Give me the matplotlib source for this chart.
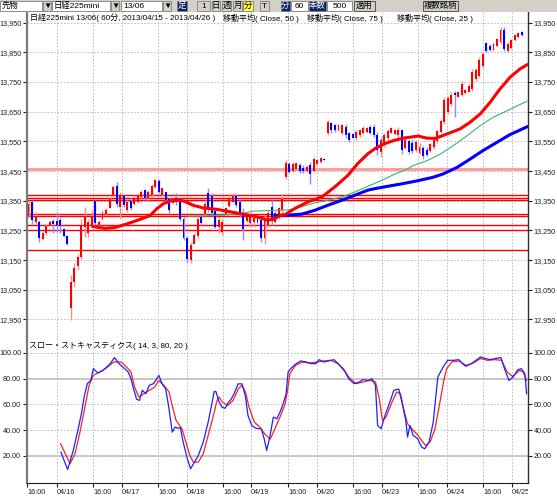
import matplotlib.pyplot as plt
from matplotlib.patches import Rectangle
from matplotlib.transforms import Bbox, TransformedBbox

plt.rcParams['font.family'] = ['Liberation Sans', 'Noto Sans CJK JP', 'DejaVu Sans']

# 日経225mini 13/06, 60分足 (2013/04/15 - 2013/04/26)
opens = [13300, 13345, 13280, 13280, 13222, 13240, 13270, 13282, 13282, 13285,
         13255, 13230, 12990, 13075, 13130, 13160, 13260, 13240, 13265, 13350,
         13270, 13290, 13305, 13325, 13370, 13400, 13330, 13365, 13320, 13350,
         13340, 13345, 13362, 13385, 13358, 13370, 13395, 13415, 13370, 13378,
         13355, 13343, 13360, 13345, 13290, 13225, 13150, 13205, 13230, 13295,
         13305, 13375, 13365, 13315, 13260, 13245, 13305, 13332, 13345, 13365,
         13345, 13310, 13282, 13275, 13280, 13292, 13285, 13225, 13270, 13330,
         13280, 13295, 13318, 13430, 13475, 13450, 13458, 13472, 13462, 13450,
         13470, 13450, 13475, 13482, 13492, 13578, 13612, 13605, 13590, 13580,
         13600, 13578, 13575, 13562, 13570, 13580, 13582, 13598, 13600, 13570,
         13515, 13540, 13560, 13580, 13575, 13570, 13588, 13528, 13552, 13545,
         13520, 13512, 13528, 13520, 13518, 13530, 13550, 13582, 13615, 13650,
         13675, 13712, 13700, 13708, 13712, 13718, 13725, 13760, 13770, 13805,
         13880, 13872, 13858, 13870, 13885, 13925, 13855, 13865, 13892, 13902,
         13918]
highs = [13350, 13350, 13313, 13285, 13245, 13273, 13285, 13290, 13313, 13296,
         13257, 13234, 13099, 13139, 13172, 13290, 13330, 13290, 13318, 13352,
         13285, 13318, 13324, 13363, 13403, 13414, 13380, 13369, 13352, 13358,
         13363, 13374, 13386, 13391, 13386, 13408, 13425, 13422, 13397, 13380,
         13363, 13358, 13375, 13355, 13296, 13231, 13212, 13242, 13296, 13302,
         13352, 13392, 13375, 13319, 13294, 13290, 13330, 13369, 13375, 13369,
         13352, 13324, 13307, 13302, 13296, 13296, 13296, 13302, 13318, 13352,
         13318, 13330, 13372, 13487, 13481, 13481, 13481, 13476, 13470, 13470,
         13481, 13498, 13492, 13498, 13494, 13622, 13616, 13610, 13610, 13610,
         13608, 13582, 13580, 13588, 13593, 13601, 13599, 13605, 13608, 13582,
         13565, 13577, 13593, 13599, 13593, 13599, 13592, 13564, 13558, 13555,
         13556, 13545, 13533, 13532, 13545, 13560, 13590, 13625, 13698, 13704,
         13715, 13721, 13721, 13754, 13726, 13743, 13794, 13799, 13833, 13850,
         13884, 13878, 13884, 13900, 13934, 13934, 13884, 13895, 13912, 13917,
         13923]
lows = [13296, 13273, 13273, 13212, 13217, 13234, 13268, 13240, 13245, 13240,
        13228, 13200, 12948, 13060, 13116, 13155, 13228, 13228, 13257, 13268,
        13262, 13285, 13301, 13324, 13369, 13330, 13290, 13330, 13313, 13318,
        13335, 13341, 13358, 13352, 13352, 13363, 13392, 13375, 13366, 13350,
        13310, 13341, 13335, 13283, 13217, 13144, 13139, 13204, 13223, 13268,
        13302, 13313, 13298, 13257, 13240, 13234, 13302, 13330, 13341, 13330,
        13296, 13217, 13279, 13262, 13262, 13274, 13212, 13205, 13262, 13268,
        13274, 13290, 13307, 13425, 13442, 13447, 13453, 13442, 13442, 13447,
        13408, 13447, 13470, 13478, 13486, 13571, 13577, 13582, 13586, 13571,
        13560, 13549, 13560, 13556, 13565, 13574, 13577, 13574, 13565, 13504,
        13498, 13532, 13543, 13577, 13571, 13560, 13507, 13524, 13507, 13510,
        13515, 13508, 13492, 13500, 13515, 13525, 13545, 13578, 13608, 13642,
        13670, 13631, 13698, 13704, 13709, 13715, 13721, 13754, 13766, 13799,
        13850, 13855, 13855, 13867, 13878, 13855, 13850, 13861, 13889, 13900,
        13906]
closes = [13340, 13285, 13300, 13225, 13240, 13265, 13280, 13272, 13270, 13265,
          13232, 13203, 13075, 13125, 13160, 13270, 13300, 13280, 13300, 13275,
          13280, 13310, 13320, 13355, 13395, 13340, 13370, 13335, 13345, 13325,
          13358, 13368, 13380, 13358, 13380, 13400, 13420, 13380, 13392, 13352,
          13320, 13355, 13345, 13290, 13225, 13155, 13200, 13235, 13290, 13275,
          13340, 13330, 13310, 13262, 13285, 13280, 13325, 13360, 13365, 13335,
          13305, 13255, 13300, 13298, 13292, 13278, 13225, 13290, 13310, 13290,
          13310, 13325, 13355, 13478, 13448, 13475, 13476, 13450, 13450, 13465,
          13440, 13490, 13488, 13495, 13488, 13615, 13588, 13590, 13605, 13605,
          13570, 13555, 13563, 13582, 13588, 13596, 13595, 13580, 13570, 13520,
          13555, 13570, 13585, 13595, 13588, 13590, 13520, 13555, 13515, 13518,
          13548, 13530, 13500, 13505, 13540, 13555, 13585, 13620, 13690, 13695,
          13705, 13705, 13718, 13745, 13724, 13738, 13785, 13792, 13825, 13845,
          13855, 13858, 13878, 13895, 13925, 13862, 13878, 13890, 13908, 13914,
          13910]

# 水平ライン
levels = [13370, 13360, 13352, 13305, 13300, 13267, 13253, 13183]
pink_level = 13457

# 移動平均 (bar position, value)
ma25_x = [18.3, 21.7, 24.6, 27.4, 31.1, 34.5, 36.5, 38.4, 40.2, 42.2, 44.1, 46.7, 49.5,
          53.5, 57.2, 60.9, 64.9, 67.7, 69.4, 71.4, 72.8, 75.6, 79.3, 83.3, 87.0, 90.7,
          93.5, 96.4, 98.4, 101.2, 104.0, 106.9, 110.6, 113.1, 115.4, 118.8, 122.5,
          125.3, 128.2, 131.0, 133.8, 136.7, 139.5, 141.5]
ma25_y = [13263, 13257, 13260, 13270, 13285, 13300, 13324, 13341, 13349, 13352, 13349,
          13335, 13326, 13321, 13313, 13305, 13296, 13285, 13287, 13300, 13303, 13324,
          13346, 13363, 13397, 13436, 13476, 13509, 13526, 13543, 13554, 13562, 13568,
          13561, 13560, 13575, 13592, 13614, 13642, 13681, 13726, 13766, 13794, 13808]
ma50_x = [45.3, 50.7, 55.2, 60.9, 63.7, 70.5, 73.7, 77.6, 81.3, 85.0, 89.0, 92.7, 96.4,
          100.3, 104.0, 106.9, 109.1, 113.1, 116.9, 120.5, 124.5, 128.2, 131.9, 135.8,
          139.5, 141.5]
ma50_y = [13298, 13299, 13302, 13307, 13315, 13318, 13319, 13330, 13343, 13352, 13363,
          13380, 13399, 13419, 13440, 13453, 13468, 13485, 13507, 13535, 13569, 13603,
          13631, 13653, 13674, 13685]
ma75_x = [70.0, 74.2, 77.6, 81.3, 85.0, 89.0, 92.7, 96.4, 98.4, 102.1, 105.5, 110.3,
          114.8, 117.6, 121.6, 125.3, 129.0, 133.0, 136.7, 141.5]
ma75_y = [13300, 13302, 13305, 13318, 13335, 13352, 13369, 13386, 13391, 13399, 13406,
          13417, 13429, 13440, 13462, 13490, 13519, 13547, 13573, 13599]

# スロー・ストキャスティクス
k_x = [9.2, 11.1, 12.7, 14.1, 15.1, 15.8, 16.7, 17.7, 18.4, 19.7, 21.2, 22.2, 23.2, 24.4,
       25.7, 27.3, 28.3, 29.1, 29.8, 30.7, 31.5, 32.3, 33.3, 34.3, 35.5, 36.4, 37.0, 37.9,
       38.9, 39.7, 40.8, 41.6, 42.4, 43.1, 43.9, 45.1, 46.0, 47.1, 48.2, 49.6, 51.0, 52.0,
       52.7, 53.2, 54.1, 54.9, 55.8, 56.6, 57.5, 58.3, 59.5, 60.6, 61.6, 62.3, 63.4, 64.6,
       66.1, 66.9, 67.6, 68.5, 69.5, 70.5, 71.4, 72.3, 73.1, 73.7, 74.7, 76.0, 77.3, 78.8,
       80.3, 81.6, 82.5, 83.8, 85.4, 86.7, 87.9, 88.9, 89.9, 90.9, 92.4, 93.9, 94.9, 96.5,
       97.5, 98.5, 99.1, 100.1, 101.2, 102.6, 103.7, 105.1, 106.0, 107.1, 107.6, 108.3,
       109.2, 110.5, 111.6, 112.5, 113.7, 114.9, 116.2, 117.7, 119.0, 120.7, 122.2, 123.2,
       124.2, 125.7, 127.3, 128.3, 129.8, 131.1, 132.5, 134.1, 135.3, 136.4, 137.6, 138.9,
       139.9, 140.9, 141.4]
k_y = [23, 9.5, 24.3, 41, 54, 66, 76.2, 78.7, 87.8, 84.5, 86.5, 89.1, 91.7, 96.4, 91.7,
       87.8, 85.2, 80, 72.3, 64, 63.2, 71, 68.4, 74.9, 76.2, 80, 82.6, 76.2, 72.3, 60,
       38.5, 42.5, 41.5, 42, 30.8, 17.8, 10, 15.2, 20.4, 30.8, 46.3, 60, 70, 70, 62, 58,
       57, 61, 64, 68, 76, 76, 66, 51.5, 43.5, 41.5, 41, 33.4, 24.3, 34.7, 50.2, 48.9,
       54.1, 60.6, 68, 85.2, 88.6, 91.7, 93.8, 93, 91.7, 91.7, 94.8, 93, 94, 94.8, 91.7,
       88.6, 85.2, 80, 76.2, 77.4, 79.3, 78.7, 80, 74.9, 43.7, 41.1, 51.5, 61.9, 71, 72,
       61.9, 47.6, 34.7, 43.7, 36, 33.4, 26.9, 25.6, 30.8, 46.3, 81.3, 89, 94.3, 94.3,
       94.8, 91.7, 89.6, 91.7, 94.8, 96.9, 95.6, 94.8, 95.6, 96.4, 86.5, 78.7, 81.3, 87,
       87.8, 84, 68.4]
d_x = [9.1, 11.8, 13.2, 14.6, 16.2, 17.2, 18.4, 20.2, 22.2, 24.2, 26.3, 27.8, 29.1, 30.1,
       31.3, 32.8, 34.3, 35.9, 36.9, 38.4, 39.9, 40.9, 41.9, 42.9, 43.6, 44.4, 45.8, 46.8,
       48.2, 49.6, 51.0, 52.5, 53.5, 54.1, 55.0, 56.6, 58.1, 59.6, 60.6, 61.6, 62.6, 64.1,
       65.7, 67.1, 68.6, 70.1, 71.5, 72.8, 73.5, 74.2, 75.8, 77.8, 79.8, 81.8, 83.8, 85.8,
       87.8, 89.4, 90.9, 92.9, 94.9, 97.0, 98.5, 99.5, 100.5, 101.5, 103.0, 104.5, 105.6,
       106.6, 107.6, 108.8, 110.2, 111.6, 112.7, 114.0, 115.4, 116.8, 118.0, 118.7, 120.2,
       122.2, 124.2, 126.3, 128.3, 130.3, 132.3, 134.3, 135.9, 137.4, 139.4, 140.4, 141.4]
d_y = [29.5, 14, 21.7, 38.5, 60.6, 74.9, 82.6, 85.2, 88.6, 93, 93, 89.1, 85.2, 73.6, 65.8,
       68.4, 71, 73.6, 78.7, 74.9, 69.7, 58, 47.6, 43.7, 41, 33.4, 20.4, 15.2, 15.2, 21.7,
       36, 51.5, 63, 65.8, 61.9, 59.3, 63.2, 72.3, 74.9, 69.7, 58, 46.3, 42.4, 37, 33, 42,
       51, 60, 70, 84, 90.4, 93, 92.2, 93, 93.8, 94.3, 91.7, 87.8, 81.3, 76.2, 77.4, 78.7,
       77.4, 65.8, 47.6, 50.2, 60.6, 69.7, 68.4, 55.4, 45, 41.1, 37.2, 32.1, 28.2, 30.8,
       41.1, 61.9, 80, 87.8, 93, 93.8, 90.4, 92.2, 95.6, 94.3, 94.8, 94.3, 85.2, 81.8,
       86.5, 85.2, 78.7]

tick_pos = [-0.4, 8.1, 18.3, 26.5, 36.8, 45.0, 55.2, 63.2, 73.7, 81.9, 92.1, 100.3,
            110.6, 118.8, 129.0, 137.2]
tick_lbl = ['16:00', '04/16', '16:00', '04/17', '16:00', '04/18', '16:00', '04/19',
            '16:00', '04/20', '16:00', '04/23', '16:00', '04/24', '16:00', '04/25']

W, H = 557, 496
fig = plt.figure(figsize=(W / 100, H / 100), dpi=100)
fig.patch.set_facecolor('white')


def px(l, t, r, b):
    return [l / W, 1 - b / H, (r - l) / W, (b - t) / H]


ax = fig.add_axes(px(27, 12, 528, 337))
ax2 = fig.add_axes(px(27, 337, 528, 483), sharex=ax)

grid_kw = dict(color='#b4b4b4', lw=0.6, ls=(0, (2, 2)))

# --- price panel ---
ax.set_xlim(-0.43, 141.8)
ax.set_ylim(12891, 13986)
yt = list(range(12950, 14000, 100))
ax.set_yticks(yt)
ax.set_yticklabels([f'{v:,}' for v in yt])
ax.set_xticks(tick_pos)
ax.grid(True, **grid_kw)
ax.set_axisbelow(True)

ax.axhline(pink_level, color='#ff9c9c', lw=2.2, zorder=1)
for lv in levels:
    ax.axhline(lv, color='#ff0000', lw=1, zorder=1)

for i, (o, h, l, c) in enumerate(zip(opens, highs, lows, closes)):
    up = c >= o
    body = '#ff0000' if up else '#0000ff'
    wick = '#ff8c8c' if up else '#8c8cff'
    ax.vlines(i, l, h, color=wick, lw=1.0, zorder=3)
    ax.bar(i, max(abs(c - o), 3), bottom=min(o, c), width=0.55, color=body,
           lw=0, zorder=4)

ax.plot(ma50_x, ma50_y, color='#3cb371', lw=0.8, zorder=5)
ax.plot(ma75_x, ma75_y, color='#0000ff', lw=2.2, zorder=5)
ax.plot(ma25_x, ma25_y, color='#ff0000', lw=2.2, zorder=6)

# --- stochastics panel ---
ax2.set_ylim(-0.97, 112.4)
st = [20, 40, 60, 80, 100]
ax2.set_yticks(st)
ax2.set_yticklabels([f'{v:.2f}' for v in st])
ax2.grid(True, **grid_kw)
ax2.set_axisbelow(True)
ax2.axhline(80, color='#c4c4c4', lw=1.3, zorder=1)
ax2.axhline(20, color='#c4c4c4', lw=1.3, zorder=1)
ax2.plot(d_x, d_y, color='#ff2020', lw=0.9, zorder=3)
ax2.plot(k_x, k_y, color='#2020ff', lw=0.9, zorder=4)

ax2.set_xticks(tick_pos)
ax2.set_xticklabels(tick_lbl)

for a in (ax, ax2):
    a.spines['top'].set_visible(False)
    a.spines['left'].set_color('#7a7a7a')
    a.spines['left'].set_linewidth(1.6)
    a.spines['right'].set_color('#303030')
    a.spines['right'].set_linewidth(1.0)
    a.tick_params(axis='y', left=True, right=True, labelleft=True, labelright=True,
                  direction='out', length=3, width=0.8, labelsize=5.2, pad=1.2,
                  colors='#202020')
ax.spines['bottom'].set_visible(False)
ax.tick_params(axis='x', bottom=False, labelbottom=False)
ax2.spines['bottom'].set_color('#202020')
ax2.tick_params(axis='x', direction='out', length=3, width=0.8, labelsize=5.2, pad=1.5,
                colors='#202020')

clip = TransformedBbox(Bbox([[0, 0], [528 / W, 1]]), fig.transFigure)
for lbl in ax2.get_xticklabels():
    lbl.set_horizontalalignment('left')
    lbl.set_clip_box(clip)
    lbl.set_clip_on(True)

# --- titles ---
tfs = 5.8
fig.text(30 / W, 1 - 18 / H, '日経225mini 13/06( 60分, 2013/04/15 - 2013/04/26 )',
         fontsize=tfs, va='center')
fig.text(223 / W, 1 - 18 / H, '移動平均( Close, 50 )', fontsize=tfs, va='center')
fig.text(307 / W, 1 - 18 / H, '移動平均( Close, 75 )', fontsize=tfs, va='center')
fig.text(397 / W, 1 - 18 / H, '移動平均( Close, 25 )', fontsize=tfs, va='center')
fig.text(29 / W, 1 - 346 / H, 'スロー・ストキャスティクス( 14, 3, 80, 20 )',
         fontsize=tfs, va='center')

# --- toolbar ---
tb = fig.add_axes(px(0, 0, 557, 12))
tb.set_xlim(0, W)
tb.set_ylim(12, 0)
tb.axis('off')
tb.add_patch(Rectangle((0, 0), W, 12, color='#d4d0c8', zorder=0))


def box(x0, x1, text='', fc='white', tc='black', ec='#808080'):
    tb.add_patch(Rectangle((x0, 1), x1 - x0, 10, fc=fc, ec=ec, lw=0.6))
    if text:
        tb.text((x0 + x1) / 2, 6, text, fontsize=6, color=tc, ha='center', va='center')


def combo(x0, x1, text):
    tb.add_patch(Rectangle((x0, 1), x1 - x0, 10, fc='white', ec='#808080', lw=0.6))
    tb.text(x0 + 2, 6, text, fontsize=6, ha='left', va='center')
    box(x1 + 1, x1 + 9, '▼', fc='#d4d0c8')


combo(0, 42, '先物')
combo(52, 110, '日経225mini')
combo(121, 162, '13/06')
box(177, 187, '足', fc='#0a246a', tc='white')
box(197, 210, '1', fc='#d4d0c8')
box(212, 220, '日', fc='#d4d0c8')
box(222, 231, '週', fc='#d4d0c8')
box(233, 242, '月', fc='#d4d0c8')
box(243, 253, '分', fc='#ffff40')
box(260, 269, 'T', fc='#d4d0c8')
box(281, 290, '分', fc='#0a246a', tc='white')
box(291, 308, '60')
box(309, 326, '本数', fc='#0a246a', tc='white')
box(327, 352, '500')
box(354, 375, '適用', fc='#d4d0c8', ec='#404040')
box(423, 458, '複数銘柄', fc='#d4d0c8', ec='#404040')

fig.savefig('out.png', dpi=100)
